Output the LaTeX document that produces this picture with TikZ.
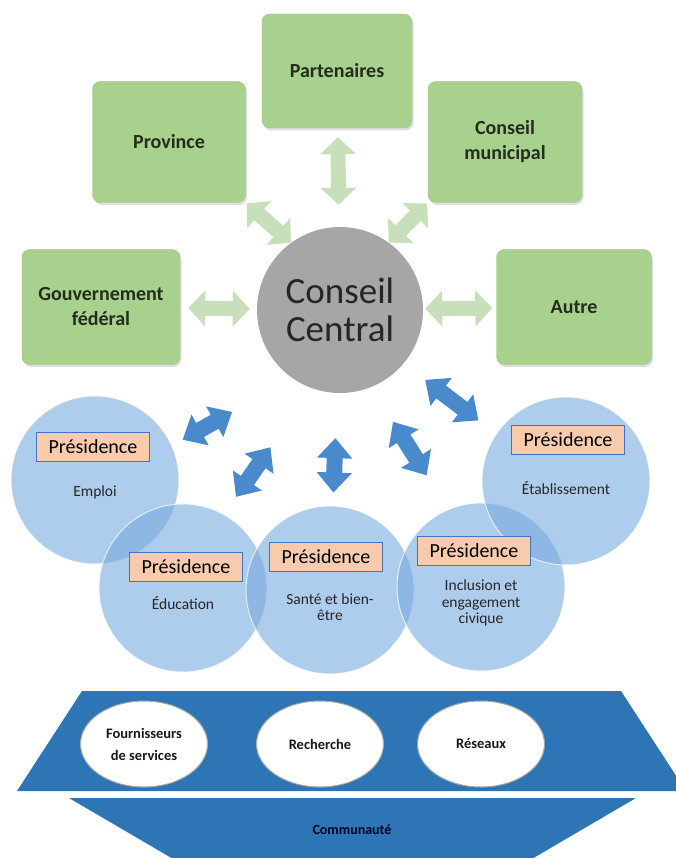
\documentclass[tikz,border=0pt]{standalone}
\usepackage{fontspec}
\setmainfont{Carlito}
\usetikzlibrary{arrows.meta,shadows,shapes.geometric}
\definecolor{boxgreen}{RGB}{169,209,142}
\definecolor{arrowgreen}{RGB}{199,224,187}
\definecolor{centralgray}{RGB}{167,165,165}
\definecolor{circleblue}{RGB}{120,170,222}
\definecolor{arrowblue}{RGB}{72,138,204}
\definecolor{presfill}{RGB}{248,203,173}
\definecolor{presline}{RGB}{68,114,196}
\definecolor{baseblue}{RGB}{46,117,182}
\definecolor{textdark}{RGB}{36,44,30}
\begin{document}
\begin{tikzpicture}
[x=1pt,y=-1pt,%
  every node/.style={align=center,text=textdark},%
  partner/.style={rectangle,rounded corners=8pt,fill=boxgreen,draw=boxgreen!92!black,
    drop shadow={shadow xshift=1.5pt,shadow yshift=-2.5pt,opacity=0.25},
    font=\fontsize{20}{25}\selectfont\bfseries},%
  council/.style={circle,minimum size=166pt,inner sep=0pt,fill=centralgray,
    font=\fontsize{37}{38}\selectfont,text=black!85},%
  pole/.style={circle,minimum size=168pt,inner sep=0pt,fill=circleblue,fill opacity=0.6,
    draw=white,draw opacity=0.7,line width=1pt},%
  poletext/.style={font=\fontsize{15.5}{16.5}\selectfont,text=black!85,fill opacity=1,text opacity=1},%
  chair/.style={rectangle,fill=presfill,draw=presline,line width=0.8pt,minimum width=113pt,
    minimum height=29pt,inner sep=0pt,font=\fontsize{20}{22}\selectfont,text=black},%
  resource/.style={ellipse,minimum width=127pt,minimum height=86pt,inner sep=0pt,fill=white,
    draw=black!35,line width=1pt,font=\fontsize{14.5}{22}\selectfont\bfseries,text=black!90},%
  greenlink/.style={line width=15pt,draw=arrowgreen,
    {Triangle[width=35pt,length=17pt]}-{Triangle[width=35pt,length=17pt]}},%
  bluelink/.style={line width=16pt,draw=arrowblue,
    {Triangle[width=34pt,length=20pt]}-{Triangle[width=34pt,length=20pt]}}]
\useasboundingbox (0,0) rectangle (676,858);
\node[partner,minimum width=150pt,minimum height=114pt] (partenaires) at (337,71) {Partenaires};
\node[partner,minimum width=153pt,minimum height=121pt] (province) at (169,142) {Province};
\node[partner,minimum width=154pt,minimum height=121pt] (municipal) at (505,142) {Conseil\\municipal};
\node[partner,minimum width=158pt,minimum height=115pt] (federal) at (101,307) {Gouvernement\\fédéral};
\node[partner,minimum width=155pt,minimum height=115pt] (autre) at (574,307) {Autre};
\node[council] (central) at (340,310) {Conseil\\Central};
\draw[greenlink,shorten <=9pt,shorten >=22pt] (partenaires) -- (central);
\draw[greenlink,shorten <=1pt] (province.south east) -- (central.126);
\draw[greenlink,shorten <=1pt] (municipal.south west) -- (central.54);
\draw[greenlink,shorten <=8pt,shorten >=7pt] (federal) -- (central);
\draw[greenlink,shorten <=2pt,shorten >=4pt] (central) -- (autre);
\node[pole,label={[poletext,yshift=-12pt]center:Emploi}] (emploi) at (95,480) {};
\node[pole,label={[poletext,yshift=-15pt]center:Éducation}] (education) at (183,588) {};
\node[pole,label={[poletext,yshift=-17pt]center:Santé et bien-\\être}] (sante) at (330,590) {};
\node[pole,label={[poletext,yshift=-16pt]center:Inclusion et\\engagement\\civique}] (inclusion) at (481,587) {};
\node[pole,label={[poletext,yshift=-7pt]center:Établissement}] (etablissement) at (566,481) {};
\draw[bluelink,shorten <=12pt,shorten >=69pt] (emploi.24) -- (central.235);
\draw[bluelink,shorten <=21pt,shorten >=72pt] (education.61) -- (central.250);
\draw[bluelink,shorten <=13pt,shorten >=45pt] (sante) -- (central);
\draw[bluelink,shorten <=40pt,shorten >=41pt] (inclusion.113) -- (central.292);
\draw[bluelink,shorten <=22pt,shorten >=27pt] (etablissement.146) -- (central.320);
\node[chair] (chairemploi) at (93,447) {Présidence};
\node[chair] (chaireducation) at (186,567) {Présidence};
\node[chair] (chairsante) at (326,557) {Présidence};
\node[chair] (chairinclusion) at (474,551) {Présidence};
\node[chair] (chairetablissement) at (568,440) {Présidence};
\fill[baseblue] (82,691) -- (621,691) -- (686,791) -- (17,791) -- cycle;
\fill[baseblue] (69,798) -- (636,798) -- (513,870) -- (192,870) -- cycle;
\node[resource] (fournisseurs) at (144,744) {Fournisseurs\\de services};
\node[resource] (recherche) at (320,744) {Recherche};
\node[resource] (reseaux) at (481,744) {Réseaux};
\node[font=\fontsize{14}{16}\selectfont\bfseries,text=black!85!blue] (communaute) at (352,830) {Communauté};
\end{tikzpicture}
\end{document}
